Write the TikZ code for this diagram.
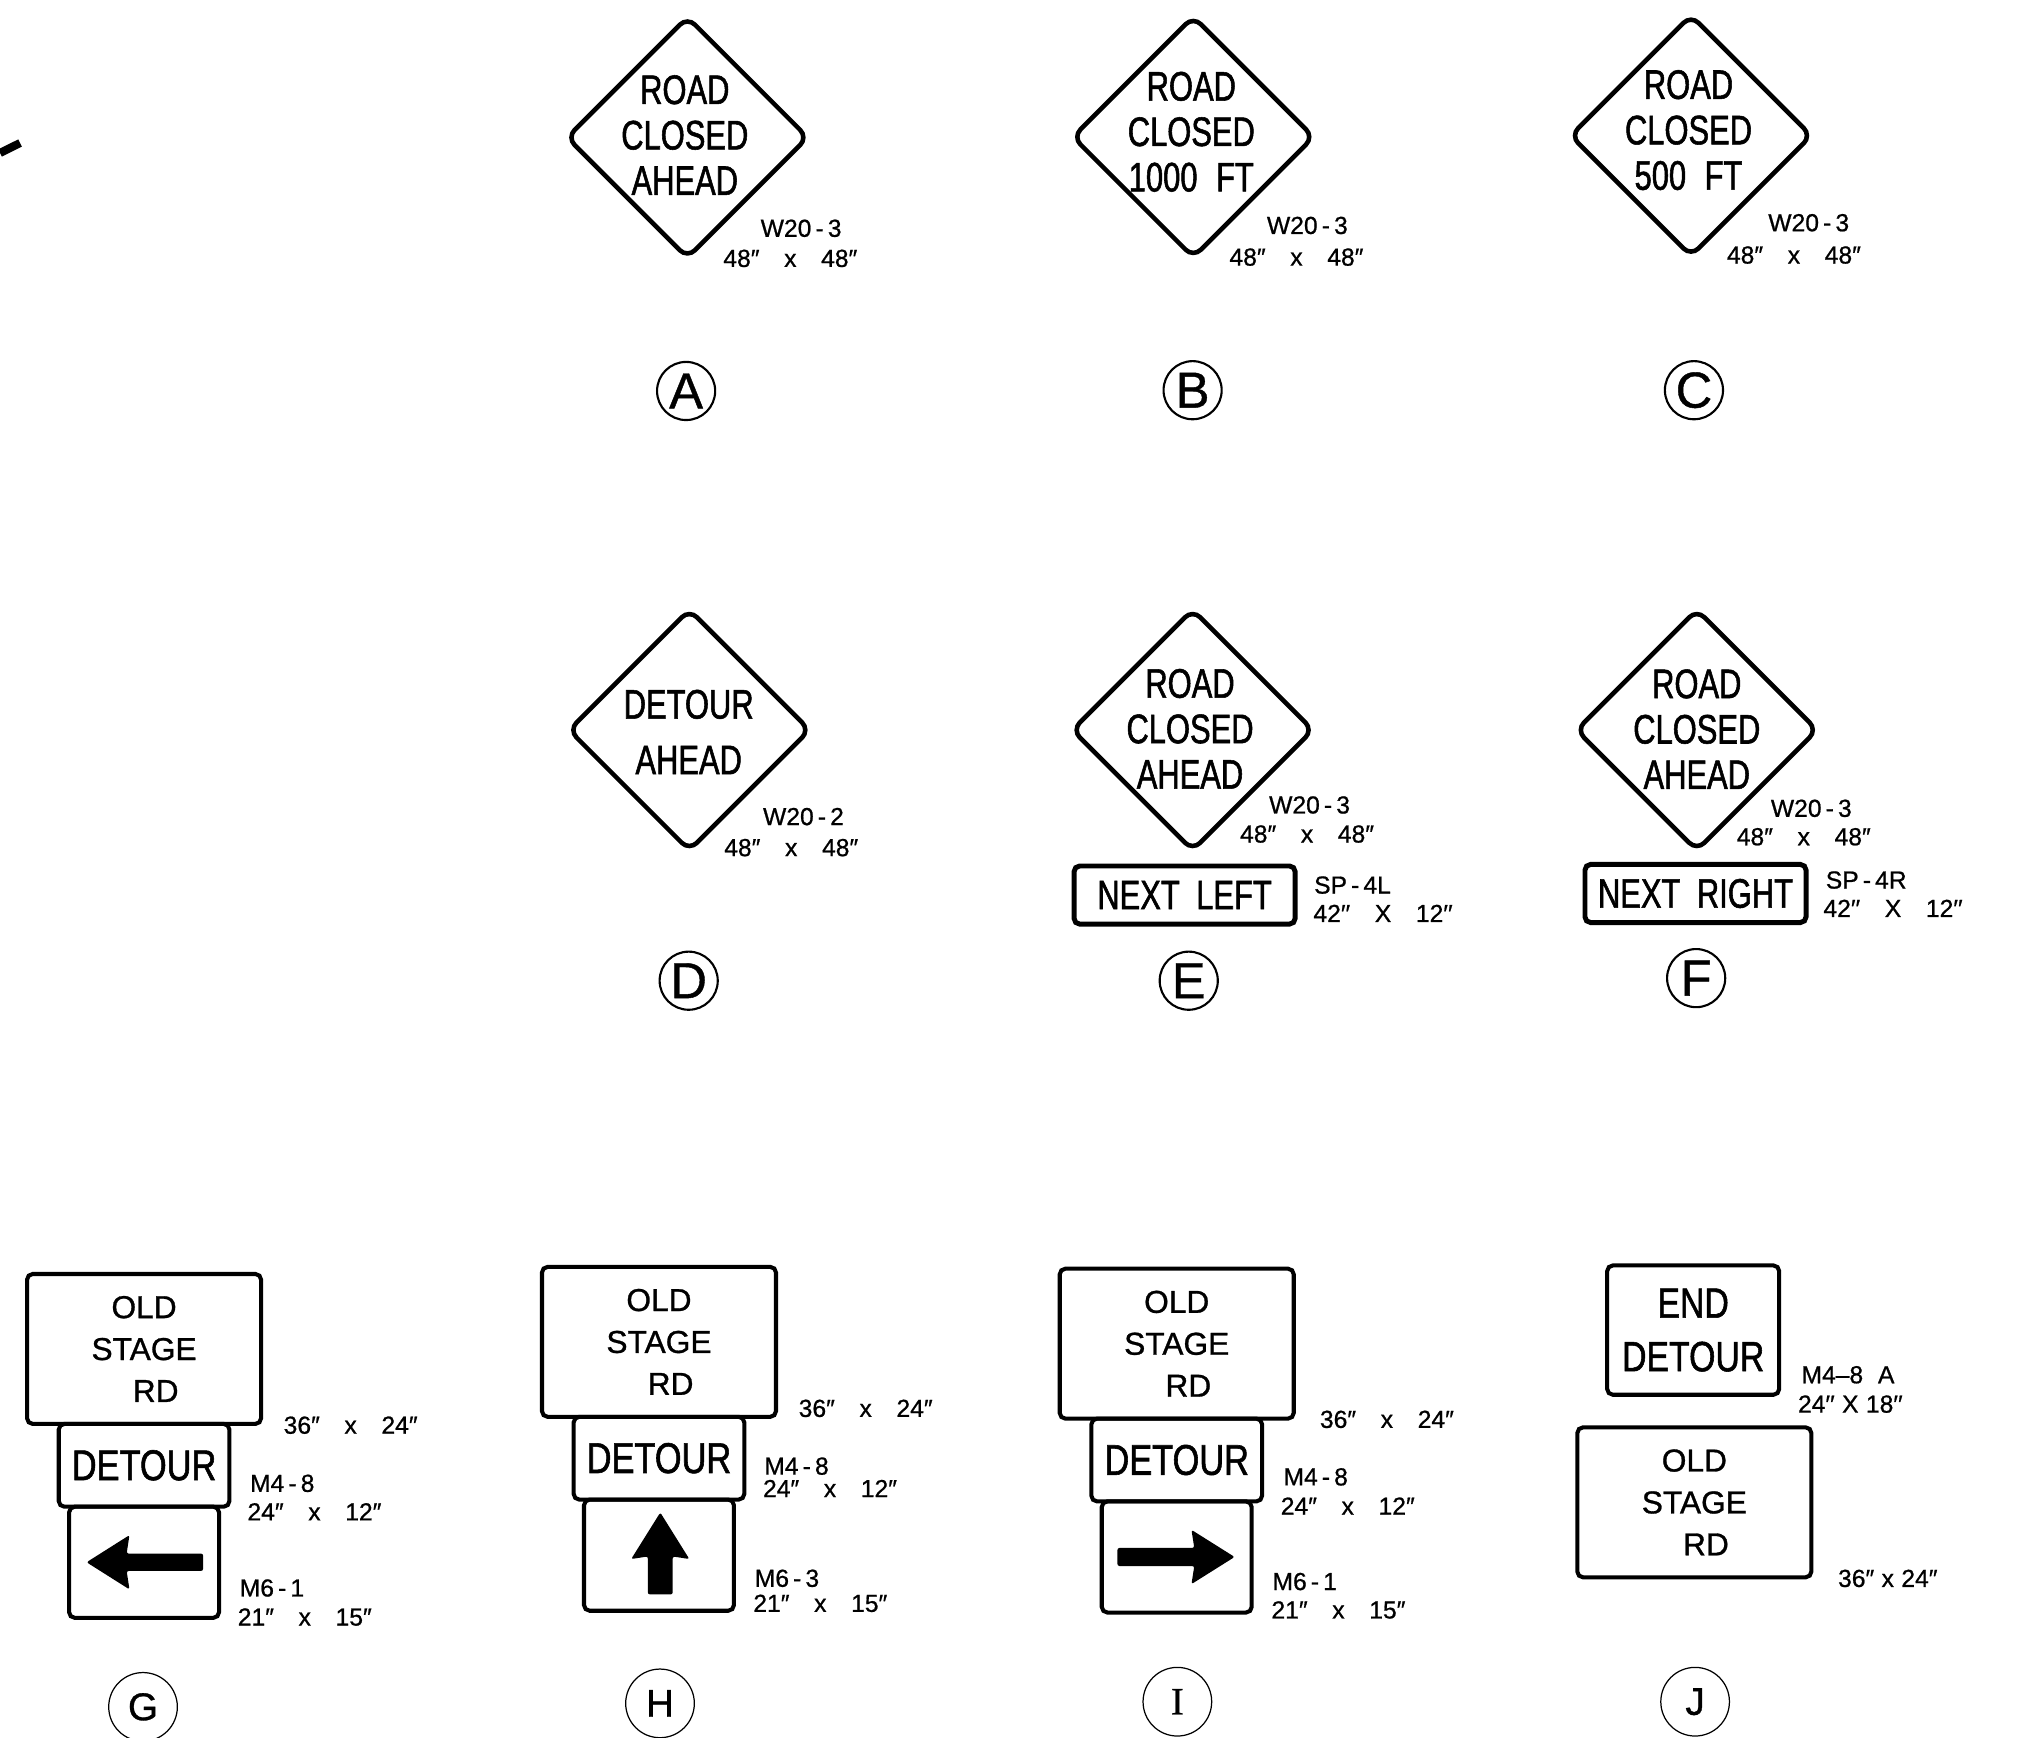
\documentclass[tikz,border=0pt]{standalone}
\usepackage{fontspec}
\setmainfont{Liberation Sans}
\newfontfamily\signfont[FakeStretch=0.75, FakeBold=1.3]{Liberation Sans}
\newfontfamily\wideSignfont[FakeStretch=0.8, FakeBold=1.3]{Liberation Sans}
\newfontfamily\boardfont[FakeBold=0.9]{Liberation Sans}
\newfontfamily\tagfont[FakeBold=0.8]{Liberation Sans}
\newfontfamily\romanfont[FakeBold=0.6]{Liberation Serif}
\usetikzlibrary{shapes.geometric, positioning}
\newcommand{\by}[1]{\hspace{1em}#1\hspace{1em}}
\tikzstyle{warn} = [diamond, rounded corners=3pt, minimum width=2.42cm, minimum height=2.42cm, inner sep=0pt, draw=black, line width=1.3pt]
\tikzstyle{signtext} = [align=center, inner sep=0pt, font=\signfont\fontsize{11.7}{12.9}\selectfont]
\tikzstyle{plate} = [rectangle, rounded corners=1.6pt, draw=black, line width=1.15pt, inner sep=0pt, outer sep=0pt, align=center]
\tikzstyle{guide} = [plate, minimum width=2.335cm, minimum height=1.496cm, font=\boardfont\fontsize{9}{11.9}\selectfont]
\tikzstyle{detourplate} = [plate, minimum width=1.703cm, minimum height=0.826cm, font=\wideSignfont\fontsize{12.2}{12.9}\selectfont]
\tikzstyle{arrowplate} = [plate, minimum width=1.496cm, minimum height=1.109cm]
\tikzstyle{plaque} = [plate, line width=1.4pt, minimum width=2.206cm, minimum height=0.58cm, font=\signfont\fontsize{11.7}{12.9}\selectfont]
\tikzstyle{tag} = [anchor=west, inner sep=0pt, font=\tagfont\fontsize{7}{8}\selectfont]
\tikzstyle{badge} = [circle, draw=black, line width=0.6pt, minimum size=0.58cm, inner sep=0pt, font=\tagfont\fontsize{14.4}{14.4}\selectfont]
\tikzstyle{bigbadge} = [badge, line width=0.35pt, minimum size=0.685cm, font=\tagfont\fontsize{11}{11}\selectfont]

\begin{document}
\begin{tikzpicture}[x=0.0129cm, y=-0.0129cm]
	\useasboundingbox (0,0) rectangle (1568,1344.4);
	%第一排 警告标志
	\draw [line width=2.3pt] (0,118.4) -- (15.5,110.7);
	\node (wA) [warn] at (532,106.4) {};
	\node (tA) [signtext] at (530,104.5) {ROAD\\CLOSED\\AHEAD};
	\node (cA1) [tag] at (588.2,176.7) {W20\,-\,3};
	\node (sA1) [tag] at (559.3,200) {48″\by{x}48″};
	\node (lA) [badge] at (531,302.6) {A};

	\node (wB) [warn] at (923.5,106) {};
	\node (tB) [signtext] at (922,102) {ROAD\\CLOSED\\1000\hspace{0.45em}FT};
	\node (cB1) [tag] at (980,174.5) {W20\,-\,3};
	\node (sB1) [tag] at (951,199) {48″\by{x}48″};
	\node (lB) [badge] at (923,302) {B};

	\node (wC) [warn] at (1308.7,105) {};
	\node (tC) [signtext] at (1306.8,100.7) {ROAD\\CLOSED\\500\hspace{0.45em}FT};
	\node (cC1) [tag] at (1368,172.4) {W20\,-\,3};
	\node (sC1) [tag] at (1336,197.4) {48″\by{x}48″};
	\node (lC) [badge] at (1311,302) {C};

	%第二排
	\node (wD) [warn] at (533.5,565) {};
	\node (tD) [signtext] at (533,566.5) {DETOUR\\[2.9pt]AHEAD};
	\node (cD1) [tag] at (590,632) {W20\,-\,2};
	\node (sD1) [tag] at (560,656) {48″\by{x}48″};
	\node (lD) [badge] at (533,759) {D};

	\node (wE) [warn] at (923,565) {};
	\node (tE) [signtext] at (921,564) {ROAD\\CLOSED\\AHEAD};
	\node (cE1) [tag] at (981.7,623) {W20\,-\,3};
	\node (sE1) [tag] at (959.2,645.5) {48″\by{x}48″};
	\node (pE) [plaque] at (916.8,692.7) {NEXT\hspace{0.4em}LEFT};
	\node (cE2) [tag] at (1016.5,685) {SP\,-\,4L};
	\node (sE2) [tag] at (1016,706.9) {42′′\by{X}12′′};
	\node (lE) [badge] at (920,759) {E};

	\node (wF) [warn] at (1313.2,565) {};
	\node (tF) [signtext] at (1313.2,564.3) {ROAD\\CLOSED\\AHEAD};
	\node (cF1) [tag] at (1370,625.6) {W20\,-\,3};
	\node (sF1) [tag] at (1343.6,647.6) {48″\by{x}48″};
	\node (pF) [plaque] at (1312.2,691.5) {NEXT\hspace{0.4em}RIGHT};
	\node (cF2) [tag] at (1412.5,681.1) {SP\,-\,4R};
	\node (sF2) [tag] at (1410.7,703) {42′′\by{X}12′′};
	\node (lF) [badge] at (1312.7,757) {F};

	%第三排 绕行标志
	\node (gTop) [guide] at (111.5,1044) {OLD\\STAGE\\\hspace*{6.6pt}RD};
	\node (gDet) [detourplate, below=0pt of gTop] {DETOUR};
	\node (gArr) [arrowplate, below=0pt of gDet] {};
	\fill [shift={(gArr.center)}, rounded corners=0.6pt] (-44.5,0) -- (-11.3,-21) -- (-13.5,-6.7) -- (45.7,-6.7) -- (45.7,6.7) -- (-13.5,6.7) -- (-11.3,21) -- cycle;
	\node (sG1) [tag] at (219,1103) {36″\by{x}24″};
	\node (cG2) [tag] at (193,1148) {M4\,-\,8};
	\node (sG2) [tag] at (191,1170) {24″\by{x}12″};
	\node (cG3) [tag] at (185,1229) {M6\,-\,1};
	\node (sG3) [tag] at (183.5,1251.5) {21″\by{x}15″};
	\node (lG) [bigbadge] at (110.7,1321) {G};

	\node (hTop) [guide] at (510,1038.5) {OLD\\STAGE\\\hspace*{6.6pt}RD};
	\node (hDet) [detourplate, below=0pt of hTop] {DETOUR};
	\node (hArr) [arrowplate, below=0pt of hDet] {};
	\fill [shift={(hArr.center)}, rounded corners=0.6pt] (1,-33) -- (23.5,3) -- (10.6,1) -- (10.6,30.4) -- (-8.6,30.4) -- (-8.6,1) -- (-21.5,3) -- cycle;
	\node (sH1) [tag] at (617.6,1090) {36″\by{x}24″};
	\node (cH2) [tag] at (591,1134.7) {M4\,-\,8};
	\node (sH2) [tag] at (590,1152) {24″\by{x}12″};
	\node (cH3) [tag] at (583.6,1221.5) {M6\,-\,3};
	\node (sH3) [tag] at (582.5,1240.9) {21″\by{x}15″};
	\node (lH) [bigbadge] at (510.8,1318.3) {H};

	\node (iTop) [guide] at (910.7,1039.9) {OLD\\STAGE\\\hspace*{6.6pt}RD};
	\node (iDet) [detourplate, below=0pt of iTop] {DETOUR};
	\node (iArr) [arrowplate, below=0pt of iDet] {};
	\fill [shift={(iArr.center)}, rounded corners=0.6pt] (44.8,0) -- (11.4,-21) -- (13.6,-7) -- (-45.9,-7) -- (-45.9,7) -- (13.6,7) -- (11.4,21) -- cycle;
	\node (sI1) [tag] at (1021,1098.5) {36″\by{x}24″};
	\node (cI2) [tag] at (992.8,1143) {M4\,-\,8};
	\node (sI2) [tag] at (990.7,1165.6) {24″\by{x}12″};
	\node (cI3) [tag] at (984.3,1224) {M6\,-\,1};
	\node (sI3) [tag] at (983.5,1246) {21″\by{x}15″};
	\node (lI) [bigbadge, font=\romanfont\fontsize{11}{11}\selectfont] at (911.2,1317) {I};

	\node (jEnd) [plate, minimum width=1.716cm, minimum height=1.29cm, font=\wideSignfont\fontsize{12}{12.9}\selectfont] at (1310.4,1029.4) {END\\[2.3pt]DETOUR};
	\node (jTop) [guide] at (1311.3,1162.7) {OLD\\STAGE\\\hspace*{6.6pt}RD};
	\node (cJ1) [tag] at (1393.7,1064) {M4–8\hspace{0.6em}A};
	\node (sJ1) [tag] at (1391,1086.7) {24′′\hspace{0.3em}X\hspace{0.3em}18′′};
	\node (sJ2) [tag] at (1422,1221.6) {36″\hspace{0.3em}x\hspace{0.3em}24″};
	\node (lJ) [bigbadge] at (1311.9,1317) {J};
\end{tikzpicture}
\end{document}
